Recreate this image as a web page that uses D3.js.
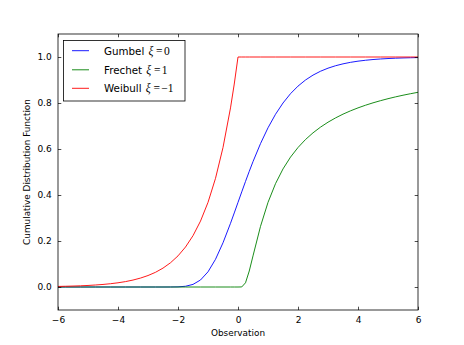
<!DOCTYPE html>
<html>
<head>
<meta charset="utf-8">
<script src="https://cdn.jsdelivr.net/npm/d3@7"></script>
<style>
  html, body { margin: 0; padding: 0; background: #fff; }
  svg { display: block; }
  text { font-family: "DejaVu Sans", sans-serif; fill: #000; }
</style>
</head>
<body>
<svg id="chart" width="464" height="345"></svg>
<script>
// Sample points along the observation axis (denser where the curves are steep)
const observations = [
  -6, -5.75, -5.5, -5.25, -5, -4.75, -4.5, -4.25, -4, -3.75, -3.5, -3.25,
  -3, -2.75, -2.5, -2.25, -2, -1.75, -1.5, -1.25, -1, -0.75, -0.5, -0.25, -0.125,
  0, 0.125, 0.25, 0.375, 0.5, 0.75, 1, 1.25, 1.5, 1.75, 2, 2.25, 2.5, 2.75,
  3, 3.25, 3.5, 3.75, 4, 4.25, 4.5, 4.75, 5, 5.25, 5.5, 5.75, 6
];

// Cumulative distribution values for each family
const gumbelCdf = [
  0, 0, 0, 0, 0, 0, 0, 0, 0, 0, 0, 0,
  0, 0, 0, 0.0001, 0.0006, 0.0032, 0.0113, 0.0305, 0.0660, 0.1204, 0.1923, 0.2769, 0.3220,
  0.3679, 0.4137, 0.4589, 0.5029, 0.5452, 0.6235, 0.6922, 0.7509, 0.8000, 0.8405, 0.8734, 0.9000, 0.9212, 0.9381,
  0.9514, 0.9620, 0.9702, 0.9768, 0.9819, 0.9858, 0.9890, 0.9914, 0.9933, 0.9948, 0.9959, 0.9968, 0.9975
];
const frechetCdf = [
  0, 0, 0, 0, 0, 0, 0, 0, 0, 0, 0, 0,
  0, 0, 0, 0, 0, 0, 0, 0, 0, 0, 0, 0, 0,
  0, 0.0003, 0.0183, 0.0695, 0.1353, 0.2636, 0.3679, 0.4493, 0.5134, 0.5647, 0.6065, 0.6412, 0.6703, 0.6951,
  0.7165, 0.7351, 0.7515, 0.7659, 0.7788, 0.7903, 0.8007, 0.8101, 0.8187, 0.8266, 0.8338, 0.8404, 0.8465
];
const weibullCdf = [
  0.0025, 0.0032, 0.0041, 0.0052, 0.0067, 0.0087, 0.0111, 0.0143, 0.0183, 0.0235, 0.0302, 0.0388,
  0.0498, 0.0639, 0.0821, 0.1054, 0.1353, 0.1738, 0.2231, 0.2865, 0.3679, 0.4724, 0.6065, 0.7788, 0.8825,
  1, 1, 1, 1, 1, 1, 1, 1, 1, 1, 1, 1, 1, 1,
  1, 1, 1, 1, 1, 1, 1, 1, 1, 1, 1, 1, 1
];

const seriesNames = ["Gumbel", "Frechet", "Weibull"];
const shapeLabels = ["0", "1", "\u22121"];
const seriesColors = ["#0000ff", "#008000", "#ff0000"];
const seriesValues = [gumbelCdf, frechetCdf, weibullCdf];

const xTicks = [-6, -4, -2, 0, 2, 4, 6];
const yTicks = [0.0, 0.2, 0.4, 0.6, 0.8, 1.0];

const margin = { left: 58, right: 46, top: 34, bottom: 35 };
const W = 464, H = 345;
const svg = d3.select("#chart");
svg.append("rect").attr("width", W).attr("height", H).attr("fill", "#fff");

const x = d3.scaleLinear().domain([-6, 6]).range([margin.left, W - margin.right]);
const y = d3.scaleLinear().domain([-0.1, 1.1]).range([H - margin.bottom, margin.top]);

const fmtMinus = s => s.replace("-", "\u2212");
const tickLen = 3.3;

// Curves
const line = d3.line()
  .x(d => x(d[0]))
  .y(d => y(d[1]))
  .curve(d3.curveLinear);

const plot = svg.append("g");
plot.append("clipPath").attr("id", "clip")
  .append("rect")
  .attr("x", x(-6)).attr("y", y(1.1))
  .attr("width", x(6) - x(-6)).attr("height", y(-0.1) - y(1.1));

seriesValues.forEach((vals, i) => {
  plot.append("path")
    .datum(observations.map((o, k) => [o, vals[k]]))
    .attr("clip-path", "url(#clip)")
    .attr("fill", "none")
    .attr("stroke", seriesColors[i])
    .attr("stroke-width", 0.9)
    .attr("d", line);
});

// Axes with inward ticks on all four sides
const xBottom = d3.axisBottom(x).tickValues(xTicks).tickSizeInner(-tickLen).tickSizeOuter(0)
  .tickPadding(tickLen + 3.5).tickFormat(d => fmtMinus(d3.format("d")(d)));
const xTop = d3.axisTop(x).tickValues(xTicks).tickSizeInner(-tickLen).tickSizeOuter(0).tickFormat("");
const yLeft = d3.axisLeft(y).tickValues(yTicks).tickSizeInner(-tickLen).tickSizeOuter(0)
  .tickPadding(tickLen + 3).tickFormat(d3.format(".1f"));
const yRight = d3.axisRight(y).tickValues(yTicks).tickSizeInner(-tickLen).tickSizeOuter(0).tickFormat("");

function styleAxis(g) {
  g.select(".domain").remove();
  g.selectAll(".tick line").attr("stroke", "#000").attr("stroke-width", 0.7);
  g.selectAll(".tick text").attr("font-family", "DejaVu Sans").attr("font-size", 9).attr("fill", "#000");
}

svg.append("g").attr("transform", `translate(0,${y(-0.1)})`).call(xBottom).call(styleAxis);
svg.append("g").attr("transform", `translate(0,${y(1.1)})`).call(xTop).call(styleAxis);
svg.append("g").attr("transform", `translate(${x(-6)},0)`).call(yLeft).call(styleAxis);
svg.append("g").attr("transform", `translate(${x(6)},0)`).call(yRight).call(styleAxis);

// Frame
svg.append("rect")
  .attr("x", x(-6)).attr("y", y(1.1))
  .attr("width", x(6) - x(-6)).attr("height", y(-0.1) - y(1.1))
  .attr("fill", "none").attr("stroke", "#000").attr("stroke-width", 0.8);

// Axis titles
svg.append("text")
  .attr("x", (x(-6) + x(6)) / 2).attr("y", 336)
  .attr("text-anchor", "middle").attr("font-size", 8.9)
  .text("Observation");
svg.append("text")
  .attr("transform", `translate(29.5,${(y(-0.1) + y(1.1)) / 2}) rotate(-90)`)
  .attr("text-anchor", "middle").attr("font-size", 8.9)
  .text("Cumulative Distribution Function");

// Legend
const legend = svg.append("g");
legend.append("rect")
  .attr("x", 63.5).attr("y", 40.5).attr("width", 121.5).attr("height", 60.5)
  .attr("fill", "#fff").attr("stroke", "#000").attr("stroke-width", 0.8);
const rowY = [50.7, 69.8, 88.3];
seriesNames.forEach((name, i) => {
  legend.append("line")
    .attr("x1", 72).attr("x2", 89).attr("y1", rowY[i]).attr("y2", rowY[i])
    .attr("stroke", seriesColors[i]).attr("stroke-width", 0.9);
  const t = legend.append("text")
    .attr("x", 104).attr("y", rowY[i] + 3.8)
    .attr("font-size", 10.3);
  t.append("tspan").text(name + " ");
  t.append("tspan").attr("font-family", "Liberation Serif, DejaVu Serif, serif")
    .attr("font-style", "italic").attr("font-size", 11.5).attr("dx", 1).text("\u03BE");
  t.append("tspan").attr("font-family", "Liberation Serif, DejaVu Serif, serif")
    .attr("font-size", 11.5).attr("dx", 2.6).text("=");
  t.append("tspan").attr("font-family", "Liberation Serif, DejaVu Serif, serif")
    .attr("font-size", 11.5).attr("dx", 1.4).text(shapeLabels[i]);
});
</script>
</body>
</html>
